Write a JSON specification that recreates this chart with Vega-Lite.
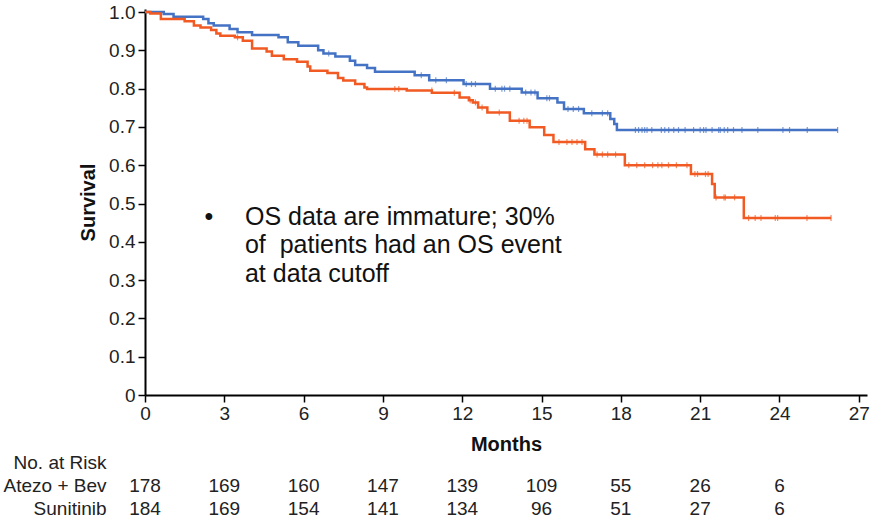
{
  "$schema": "https://vega.github.io/schema/vega-lite/v6.json",
  "background": "white",
  "autosize": {"type": "pad"},
  "padding": {"left": 3, "top": 3, "right": 0, "bottom": 0},
  "spacing": 11,
  "config": {"view": {"stroke": null}, "font": "Liberation Sans", "axis": {"grid": false}},
  "datasets": {
    "curves": [
      {"arm": "Atezo + Bev", "month": 0, "surv": 1.0},
      {"arm": "Atezo + Bev", "month": 0.71, "surv": 0.995},
      {"arm": "Atezo + Bev", "month": 1.08, "surv": 0.988},
      {"arm": "Atezo + Bev", "month": 2.2, "surv": 0.982},
      {"arm": "Atezo + Bev", "month": 2.4, "surv": 0.971},
      {"arm": "Atezo + Bev", "month": 2.6, "surv": 0.965},
      {"arm": "Atezo + Bev", "month": 3.2, "surv": 0.956},
      {"arm": "Atezo + Bev", "month": 3.5, "surv": 0.947},
      {"arm": "Atezo + Bev", "month": 4.05, "surv": 0.94},
      {"arm": "Atezo + Bev", "month": 5.05, "surv": 0.934},
      {"arm": "Atezo + Bev", "month": 5.4, "surv": 0.921},
      {"arm": "Atezo + Bev", "month": 5.8, "surv": 0.912},
      {"arm": "Atezo + Bev", "month": 6.55, "surv": 0.9},
      {"arm": "Atezo + Bev", "month": 6.75, "surv": 0.892},
      {"arm": "Atezo + Bev", "month": 7.2, "surv": 0.884},
      {"arm": "Atezo + Bev", "month": 7.75, "surv": 0.873},
      {"arm": "Atezo + Bev", "month": 7.95, "surv": 0.862},
      {"arm": "Atezo + Bev", "month": 8.4, "surv": 0.854},
      {"arm": "Atezo + Bev", "month": 8.7, "surv": 0.844},
      {"arm": "Atezo + Bev", "month": 10.2, "surv": 0.835},
      {"arm": "Atezo + Bev", "month": 10.75, "surv": 0.822},
      {"arm": "Atezo + Bev", "month": 12.05, "surv": 0.812},
      {"arm": "Atezo + Bev", "month": 13.05, "surv": 0.8},
      {"arm": "Atezo + Bev", "month": 14.25, "surv": 0.79},
      {"arm": "Atezo + Bev", "month": 14.85, "surv": 0.775},
      {"arm": "Atezo + Bev", "month": 15.6, "surv": 0.764},
      {"arm": "Atezo + Bev", "month": 15.85, "surv": 0.747},
      {"arm": "Atezo + Bev", "month": 16.6, "surv": 0.736},
      {"arm": "Atezo + Bev", "month": 17.6, "surv": 0.721},
      {"arm": "Atezo + Bev", "month": 17.75, "surv": 0.708},
      {"arm": "Atezo + Bev", "month": 17.85, "surv": 0.692},
      {"arm": "Atezo + Bev", "month": 26.2, "surv": 0.692},
      {"arm": "Sunitinib", "month": 0, "surv": 1.0},
      {"arm": "Sunitinib", "month": 0.2, "surv": 0.996},
      {"arm": "Sunitinib", "month": 0.6, "surv": 0.982},
      {"arm": "Sunitinib", "month": 1.5, "surv": 0.976},
      {"arm": "Sunitinib", "month": 1.85, "surv": 0.965},
      {"arm": "Sunitinib", "month": 2.1, "surv": 0.96},
      {"arm": "Sunitinib", "month": 2.5, "surv": 0.953},
      {"arm": "Sunitinib", "month": 2.7, "surv": 0.944},
      {"arm": "Sunitinib", "month": 2.85, "surv": 0.938},
      {"arm": "Sunitinib", "month": 3.4, "surv": 0.934},
      {"arm": "Sunitinib", "month": 3.7, "surv": 0.925},
      {"arm": "Sunitinib", "month": 4.05, "surv": 0.905},
      {"arm": "Sunitinib", "month": 4.6, "surv": 0.897},
      {"arm": "Sunitinib", "month": 4.8, "surv": 0.886},
      {"arm": "Sunitinib", "month": 5.25, "surv": 0.877},
      {"arm": "Sunitinib", "month": 5.75, "surv": 0.87},
      {"arm": "Sunitinib", "month": 6.15, "surv": 0.858},
      {"arm": "Sunitinib", "month": 6.25, "surv": 0.847},
      {"arm": "Sunitinib", "month": 6.9, "surv": 0.841},
      {"arm": "Sunitinib", "month": 7.3, "surv": 0.828},
      {"arm": "Sunitinib", "month": 7.5, "surv": 0.821},
      {"arm": "Sunitinib", "month": 7.95, "surv": 0.812},
      {"arm": "Sunitinib", "month": 8.3, "surv": 0.803},
      {"arm": "Sunitinib", "month": 8.4, "surv": 0.799},
      {"arm": "Sunitinib", "month": 9.9, "surv": 0.795},
      {"arm": "Sunitinib", "month": 10.85, "surv": 0.789},
      {"arm": "Sunitinib", "month": 11.9, "surv": 0.777},
      {"arm": "Sunitinib", "month": 12.25, "surv": 0.77},
      {"arm": "Sunitinib", "month": 12.4, "surv": 0.764},
      {"arm": "Sunitinib", "month": 12.6, "surv": 0.751},
      {"arm": "Sunitinib", "month": 12.95, "surv": 0.738},
      {"arm": "Sunitinib", "month": 13.8, "surv": 0.716},
      {"arm": "Sunitinib", "month": 14.55, "surv": 0.699},
      {"arm": "Sunitinib", "month": 15.1, "surv": 0.679},
      {"arm": "Sunitinib", "month": 15.45, "surv": 0.661},
      {"arm": "Sunitinib", "month": 16.65, "surv": 0.642},
      {"arm": "Sunitinib", "month": 17.0, "surv": 0.628},
      {"arm": "Sunitinib", "month": 18.15, "surv": 0.6},
      {"arm": "Sunitinib", "month": 20.65, "surv": 0.577},
      {"arm": "Sunitinib", "month": 21.45, "surv": 0.551},
      {"arm": "Sunitinib", "month": 21.55, "surv": 0.516},
      {"arm": "Sunitinib", "month": 22.65, "surv": 0.462},
      {"arm": "Sunitinib", "month": 25.95, "surv": 0.462}
    ],
    "censors": [
      {"arm": "Atezo + Bev", "month": 6.95, "surv": 0.892},
      {"arm": "Atezo + Bev", "month": 10.45, "surv": 0.835},
      {"arm": "Atezo + Bev", "month": 11.0, "surv": 0.822},
      {"arm": "Atezo + Bev", "month": 11.4, "surv": 0.822},
      {"arm": "Atezo + Bev", "month": 12.15, "surv": 0.812},
      {"arm": "Atezo + Bev", "month": 12.35, "surv": 0.812},
      {"arm": "Atezo + Bev", "month": 12.5, "surv": 0.812},
      {"arm": "Atezo + Bev", "month": 13.25, "surv": 0.8},
      {"arm": "Atezo + Bev", "month": 13.5, "surv": 0.8},
      {"arm": "Atezo + Bev", "month": 13.6, "surv": 0.8},
      {"arm": "Atezo + Bev", "month": 13.8, "surv": 0.8},
      {"arm": "Atezo + Bev", "month": 14.4, "surv": 0.79},
      {"arm": "Atezo + Bev", "month": 14.6, "surv": 0.79},
      {"arm": "Atezo + Bev", "month": 14.75, "surv": 0.79},
      {"arm": "Atezo + Bev", "month": 15.2, "surv": 0.775},
      {"arm": "Atezo + Bev", "month": 15.3, "surv": 0.775},
      {"arm": "Atezo + Bev", "month": 16.0, "surv": 0.747},
      {"arm": "Atezo + Bev", "month": 16.2, "surv": 0.747},
      {"arm": "Atezo + Bev", "month": 16.4, "surv": 0.747},
      {"arm": "Atezo + Bev", "month": 16.9, "surv": 0.736},
      {"arm": "Atezo + Bev", "month": 17.3, "surv": 0.736},
      {"arm": "Atezo + Bev", "month": 17.5, "surv": 0.736},
      {"arm": "Atezo + Bev", "month": 18.55, "surv": 0.692},
      {"arm": "Atezo + Bev", "month": 18.67, "surv": 0.692},
      {"arm": "Atezo + Bev", "month": 18.8, "surv": 0.692},
      {"arm": "Atezo + Bev", "month": 18.9, "surv": 0.692},
      {"arm": "Atezo + Bev", "month": 18.99, "surv": 0.692},
      {"arm": "Atezo + Bev", "month": 19.17, "surv": 0.692},
      {"arm": "Atezo + Bev", "month": 19.53, "surv": 0.692},
      {"arm": "Atezo + Bev", "month": 19.66, "surv": 0.692},
      {"arm": "Atezo + Bev", "month": 19.81, "surv": 0.692},
      {"arm": "Atezo + Bev", "month": 20.0, "surv": 0.692},
      {"arm": "Atezo + Bev", "month": 20.18, "surv": 0.692},
      {"arm": "Atezo + Bev", "month": 20.43, "surv": 0.692},
      {"arm": "Atezo + Bev", "month": 20.75, "surv": 0.692},
      {"arm": "Atezo + Bev", "month": 21.0, "surv": 0.692},
      {"arm": "Atezo + Bev", "month": 21.13, "surv": 0.692},
      {"arm": "Atezo + Bev", "month": 21.22, "surv": 0.692},
      {"arm": "Atezo + Bev", "month": 21.45, "surv": 0.692},
      {"arm": "Atezo + Bev", "month": 21.7, "surv": 0.692},
      {"arm": "Atezo + Bev", "month": 21.76, "surv": 0.692},
      {"arm": "Atezo + Bev", "month": 21.91, "surv": 0.692},
      {"arm": "Atezo + Bev", "month": 22.04, "surv": 0.692},
      {"arm": "Atezo + Bev", "month": 22.26, "surv": 0.692},
      {"arm": "Atezo + Bev", "month": 22.58, "surv": 0.692},
      {"arm": "Atezo + Bev", "month": 23.18, "surv": 0.692},
      {"arm": "Atezo + Bev", "month": 24.13, "surv": 0.692},
      {"arm": "Atezo + Bev", "month": 24.38, "surv": 0.692},
      {"arm": "Atezo + Bev", "month": 25.05, "surv": 0.692},
      {"arm": "Atezo + Bev", "month": 26.2, "surv": 0.692},
      {"arm": "Sunitinib", "month": 3.5, "surv": 0.934},
      {"arm": "Sunitinib", "month": 9.45, "surv": 0.799},
      {"arm": "Sunitinib", "month": 9.6, "surv": 0.799},
      {"arm": "Sunitinib", "month": 10.85, "surv": 0.795},
      {"arm": "Sunitinib", "month": 11.7, "surv": 0.789},
      {"arm": "Sunitinib", "month": 12.3, "surv": 0.77},
      {"arm": "Sunitinib", "month": 12.5, "surv": 0.764},
      {"arm": "Sunitinib", "month": 12.75, "surv": 0.751},
      {"arm": "Sunitinib", "month": 13.4, "surv": 0.738},
      {"arm": "Sunitinib", "month": 14.15, "surv": 0.716},
      {"arm": "Sunitinib", "month": 14.33, "surv": 0.716},
      {"arm": "Sunitinib", "month": 14.45, "surv": 0.716},
      {"arm": "Sunitinib", "month": 15.66, "surv": 0.661},
      {"arm": "Sunitinib", "month": 15.96, "surv": 0.661},
      {"arm": "Sunitinib", "month": 16.15, "surv": 0.661},
      {"arm": "Sunitinib", "month": 16.34, "surv": 0.661},
      {"arm": "Sunitinib", "month": 16.53, "surv": 0.661},
      {"arm": "Sunitinib", "month": 17.1, "surv": 0.628},
      {"arm": "Sunitinib", "month": 17.3, "surv": 0.628},
      {"arm": "Sunitinib", "month": 17.5, "surv": 0.628},
      {"arm": "Sunitinib", "month": 17.8, "surv": 0.628},
      {"arm": "Sunitinib", "month": 18.3, "surv": 0.6},
      {"arm": "Sunitinib", "month": 18.6, "surv": 0.6},
      {"arm": "Sunitinib", "month": 18.9, "surv": 0.6},
      {"arm": "Sunitinib", "month": 19.2, "surv": 0.6},
      {"arm": "Sunitinib", "month": 19.4, "surv": 0.6},
      {"arm": "Sunitinib", "month": 19.55, "surv": 0.6},
      {"arm": "Sunitinib", "month": 19.8, "surv": 0.6},
      {"arm": "Sunitinib", "month": 20.1, "surv": 0.6},
      {"arm": "Sunitinib", "month": 20.5, "surv": 0.6},
      {"arm": "Sunitinib", "month": 20.8, "surv": 0.577},
      {"arm": "Sunitinib", "month": 20.9, "surv": 0.577},
      {"arm": "Sunitinib", "month": 21.2, "surv": 0.577},
      {"arm": "Sunitinib", "month": 21.3, "surv": 0.577},
      {"arm": "Sunitinib", "month": 21.6, "surv": 0.516},
      {"arm": "Sunitinib", "month": 21.9, "surv": 0.516},
      {"arm": "Sunitinib", "month": 21.95, "surv": 0.516},
      {"arm": "Sunitinib", "month": 22.3, "surv": 0.516},
      {"arm": "Sunitinib", "month": 22.83, "surv": 0.462},
      {"arm": "Sunitinib", "month": 23.08, "surv": 0.462},
      {"arm": "Sunitinib", "month": 23.3, "surv": 0.462},
      {"arm": "Sunitinib", "month": 23.84, "surv": 0.462},
      {"arm": "Sunitinib", "month": 23.93, "surv": 0.462},
      {"arm": "Sunitinib", "month": 25.04, "surv": 0.462},
      {"arm": "Sunitinib", "month": 25.95, "surv": 0.462}
    ],
    "bullet": [
      {"month": 2.42, "surv": 0.4445, "text": "•"}
    ],
    "note": [
      {"month": 3.78, "surv": 0.4445, "text": "OS data are immature; 30%\nof\u00a0 patients had an OS event\nat data cutoff"}
    ],
    "risk": [
      {"row": "Atezo + Bev", "month": 0, "n": 178},
      {"row": "Atezo + Bev", "month": 3, "n": 169},
      {"row": "Atezo + Bev", "month": 6, "n": 160},
      {"row": "Atezo + Bev", "month": 9, "n": 147},
      {"row": "Atezo + Bev", "month": 12, "n": 139},
      {"row": "Atezo + Bev", "month": 15, "n": 109},
      {"row": "Atezo + Bev", "month": 18, "n": 55},
      {"row": "Atezo + Bev", "month": 21, "n": 26},
      {"row": "Atezo + Bev", "month": 24, "n": 6},
      {"row": "Sunitinib", "month": 0, "n": 184},
      {"row": "Sunitinib", "month": 3, "n": 169},
      {"row": "Sunitinib", "month": 6, "n": 154},
      {"row": "Sunitinib", "month": 9, "n": 141},
      {"row": "Sunitinib", "month": 12, "n": 134},
      {"row": "Sunitinib", "month": 15, "n": 96},
      {"row": "Sunitinib", "month": 18, "n": 51},
      {"row": "Sunitinib", "month": 21, "n": 27},
      {"row": "Sunitinib", "month": 24, "n": 6}
    ]
  },
  "vconcat": [
    {
      "width": 722,
      "height": 386,
      "encoding": {
        "x": {
          "field": "month", "type": "quantitative",
          "scale": {"domain": [0, 27.31], "nice": false, "zero": false},
          "axis": {
            "title": null, "values": [0, 3, 6, 9, 12, 15, 18, 21, 24, 27],
            "labelFontSize": 19, "labelColor": "#222222", "labelPadding": 2, "labelOverlap": false, "labelFlush": false,
            "tickSize": 7, "tickWidth": 1.5, "tickColor": "black",
            "domainColor": "black", "domainWidth": 2
          }
        },
        "y": {
          "field": "surv", "type": "quantitative",
          "scale": {"domain": [0, 1.008], "nice": false},
          "axis": {
            "title": "Survival", "titleFontSize": 20, "titleFontWeight": "bold", "titleColor": "#111111", "titlePadding": 10,
            "values": [0, 0.1, 0.2, 0.3, 0.4, 0.5, 0.6, 0.7, 0.8, 0.9, 1],
            "tickCount": 11,
            "labelExpr": "datum.value == 0 ? '0' : format(datum.value, '.1f')",
            "labelFontSize": 19, "labelColor": "#222222", "labelPadding": 3, "labelOverlap": false, "labelFlush": false,
            "tickSize": 7, "tickWidth": 1.5, "tickColor": "black",
            "domainColor": "black", "domainWidth": 2
          }
        }
      },
      "layer": [
        {
          "data": {"name": "curves"},
          "mark": {"type": "line", "interpolate": "step-after", "strokeWidth": 2.5},
          "encoding": {
            "color": {
              "field": "arm", "type": "nominal",
              "scale": {"domain": ["Atezo + Bev", "Sunitinib"], "range": ["#4472c4", "#f15a22"]},
              "legend": null
            }
          }
        },
        {
          "data": {"name": "censors"},
          "mark": {"type": "tick", "orient": "vertical", "size": 6, "thickness": 1.2},
          "encoding": {
            "color": {"field": "arm", "type": "nominal", "legend": null}
          }
        },
        {
          "data": {"name": "bullet"},
          "mark": {"type": "text", "align": "center", "baseline": "alphabetic", "fontSize": 25, "color": "#111111"},
          "encoding": {
            "text": {"field": "text"}
          }
        },
        {
          "data": {"name": "note"},
          "mark": {"type": "text", "align": "left", "baseline": "alphabetic", "fontSize": 25, "lineHeight": 28.5, "lineBreak": "\n", "color": "#111111"},
          "encoding": {
            "text": {"field": "text"}
          }
        }
      ]
    },
    {
      "width": 722,
      "height": 69,
      "data": {"name": "risk"},
      "mark": {"type": "text", "fontSize": 19, "color": "#222222"},
      "encoding": {
        "x": {
          "field": "month", "type": "quantitative",
          "scale": {"domain": [0, 27.31], "nice": false, "zero": false},
          "axis": {"orient": "top", "title": "Months", "titleFontSize": 20, "titleFontWeight": "bold", "titleColor": "#111111", "titlePadding": -3, "labels": false, "ticks": false, "domain": false}
        },
        "y": {
          "field": "row", "type": "ordinal",
          "scale": {"type": "point", "domain": ["No. at Risk", "Atezo + Bev", "Sunitinib"], "padding": 0.5},
          "axis": {"title": null, "ticks": false, "domain": false, "labelPadding": 39, "labelFontSize": 19, "labelColor": "#222222", "labelAlign": "right"}
        },
        "text": {"field": "n", "type": "quantitative"}
      }
    }
  ]
}
